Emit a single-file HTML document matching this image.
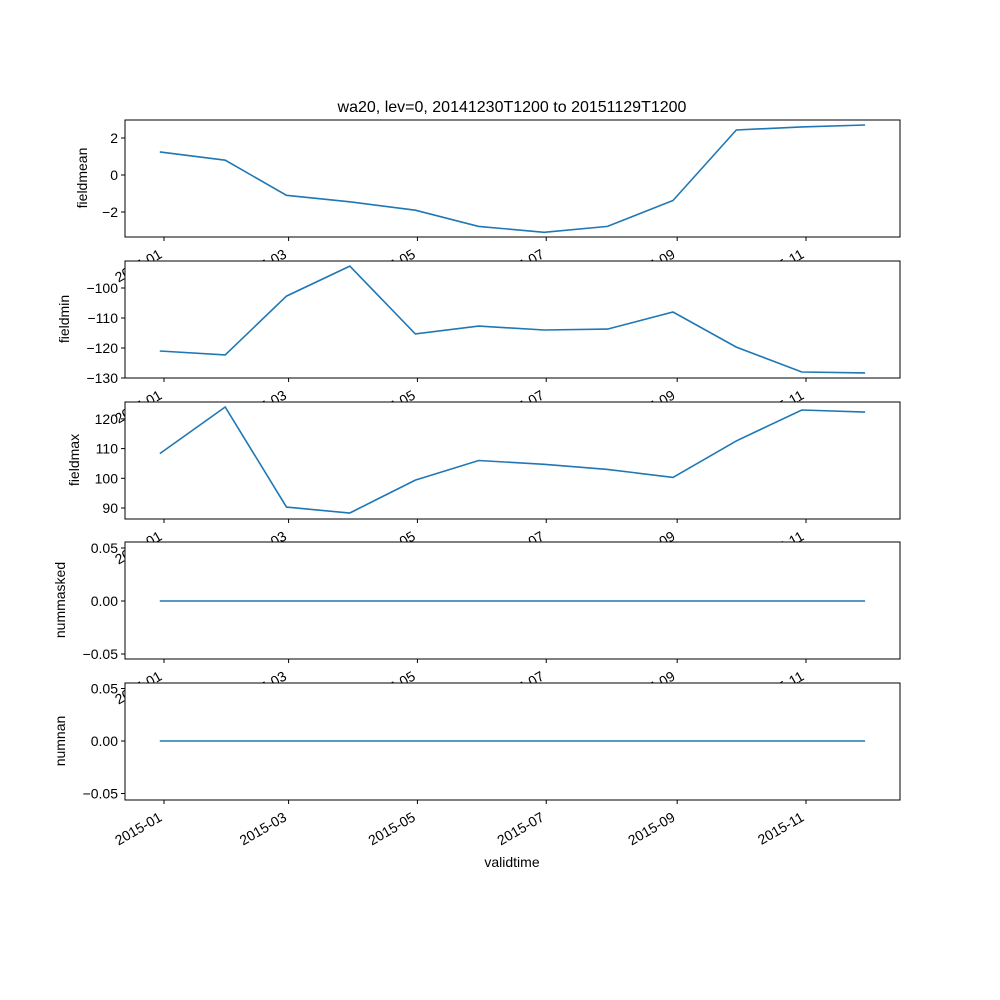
<!DOCTYPE html>
<html><head><meta charset="utf-8"><style>
body{margin:0;background:#fff}
svg{display:block;font-family:"Liberation Sans","DejaVu Sans",sans-serif}
</style></head><body>
<svg id="chart" width="1000" height="1000" xmlns="http://www.w3.org/2000/svg">
<rect width="1000" height="1000" fill="#fff"/>
<text x="512" y="112" font-size="16" text-anchor="middle">wa20, lev=0, 20141230T1200 to 20151129T1200</text>
<text x="512" y="867" font-size="14" text-anchor="middle">validtime</text>
</svg>
<script>
// days since 2015-01-01
const dayOffsets = [-2, 29, 58, 88, 119, 149, 180, 210, 241, 271, 302, 332];
const fieldmean = [1.25, 0.8, -1.1, -1.45, -1.9, -2.78, -3.1, -2.78, -1.38, 2.43, 2.6, 2.7];
const fieldmin = [-121, -122.3, -102.7, -92.7, -115.3, -112.7, -114, -113.7, -108, -119.7, -128, -128.3];
const fieldmax = [108.3, 124, 90.3, 88.3, 99.4, 106, 104.7, 103, 100.3, 112.6, 123, 122.3];
const nummasked = [0,0,0,0,0,0,0,0,0,0,0,0];
const numnan = [0,0,0,0,0,0,0,0,0,0,0,0];
const xTickLabels = ["2015-01","2015-03","2015-05","2015-07","2015-09","2015-11"];
const xTickDays = [0, 59, 120, 181, 243, 304];
const meanTicks = [2, 0, -2];
const minTicks = [-100, -110, -120, -130];
const maxTicks = [120, 110, 100, 90];
const zeroTicks = [0.05, 0.00, -0.05];

const svg = document.getElementById('chart');
const NS = 'http://www.w3.org/2000/svg';
const L = 125, R = 900;
const xs = d => 164 + d * (642 / 304);
function mk(t, a) { const e = document.createElementNS(NS, t); for (const k in a) e.setAttribute(k, a[k]); svg.appendChild(e); return e; }

const panels = [
  {name:'fieldmean', top:120, vals:fieldmean, ticks:meanTicks, fmt:v=>v===0?'0':(v<0?'\u2212'+(-v):''+v), y0:175, v0:0, k:18.5, lx:82},
  {name:'fieldmin', top:261, vals:fieldmin, ticks:minTicks, fmt:v=>'\u2212'+(-v), y0:378, v0:-130, k:3.0, lx:64},
  {name:'fieldmax', top:402, vals:fieldmax, ticks:maxTicks, fmt:v=>''+v, y0:508, v0:90, k:2.97, lx:74},
  {name:'nummasked', top:542, vals:nummasked, ticks:zeroTicks, fmt:v=>v<0?'\u2212'+(-v).toFixed(2):v.toFixed(2), y0:601, v0:0, k:1060, lx:60},
  {name:'numnan', top:683, vals:numnan, ticks:zeroTicks, fmt:v=>v<0?'\u2212'+(-v).toFixed(2):v.toFixed(2), y0:741, v0:0, k:1050, lx:60}
];
panels.forEach(p => {
  const bottom = p.top + 117;
  const ys = v => p.y0 - (v - p.v0) * p.k;
  const bg = mk('rect', {x:L, y:p.top, width:R-L, height:117, fill:'#fff', stroke:'#000', 'stroke-width':1});
  
  
  p.ticks.forEach(t => {
    const y = ys(t);
    const tk = mk('line', {x1:L-4, x2:L, y1:y, y2:y, stroke:'#000'});
    
    
    const tx = mk('text', {x:L-7, y:y+5, 'font-size':14, 'text-anchor':'end'});
    tx.textContent = p.fmt(t);
    
    
  });
  const yl = mk('text', {x:0, y:0, 'font-size':14, 'text-anchor':'middle', transform:`translate(${p.lx + 5},${p.top + 58}) rotate(-90)`});
  yl.textContent = p.name;
  
  
  xTickDays.forEach((d, i) => {
    const x = xs(d);
    const tk = mk('line', {x1:x, x2:x, y1:bottom, y2:bottom+4, stroke:'#000'});
    
    
    const tx = mk('text', {x:0, y:0, 'font-size':14, 'text-anchor':'end', transform:`translate(${x-1},${bottom+20}) rotate(-30)`});
    tx.textContent = xTickLabels[i];
    
    
  });
  const pts = p.vals.map((v, i) => xs(dayOffsets[i]).toFixed(1) + ',' + ys(v).toFixed(1)).join(' ');
  const ln = mk('polyline', {points:pts, fill:'none', stroke:'#1f77b4', 'stroke-width':1.6});
  
  
});
</script>
</body></html>
